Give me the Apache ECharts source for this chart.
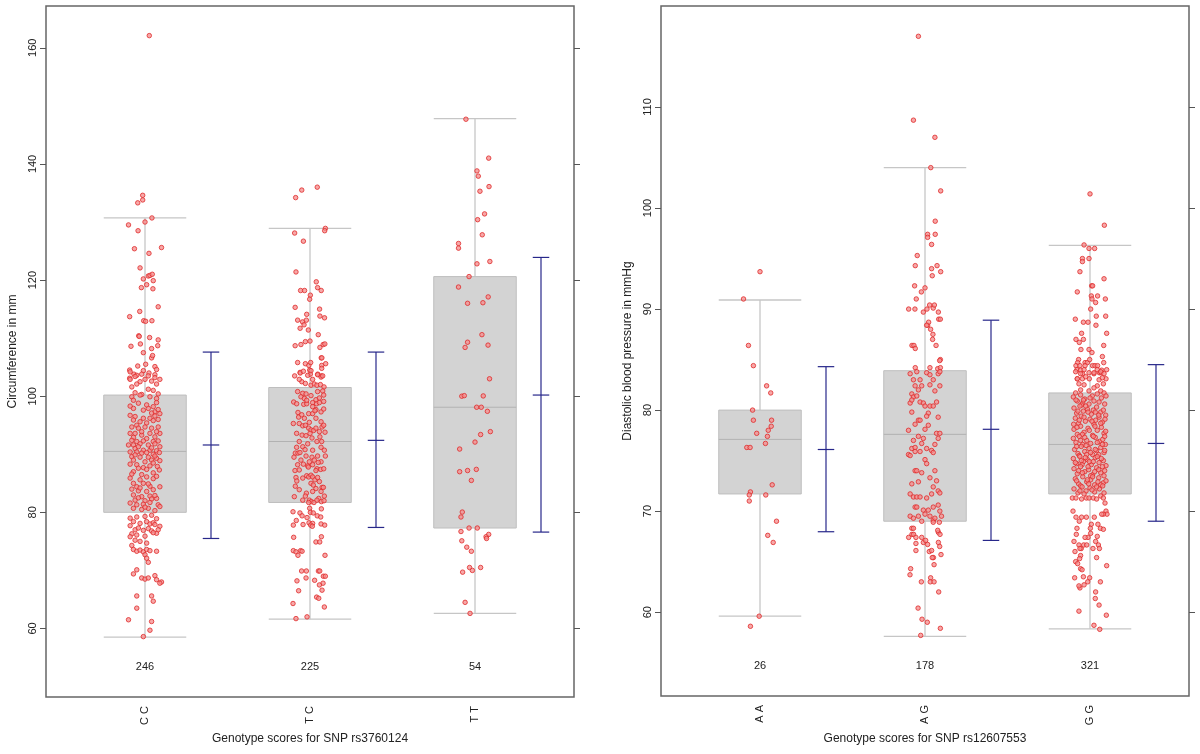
<!DOCTYPE html>
<html><head><meta charset="utf-8">
<script src="https://cdn.jsdelivr.net/npm/echarts@6/dist/echarts.min.js"></script>
<style>html,body{margin:0;padding:0;background:#fff}#c{width:1200px;height:754px}</style>
</head><body><div id="c"></div>
<script>
// ---------- LEFT PANEL DATA ----------
const leftCats = ['C C', 'T C', 'T T'];
const leftCounts = [246, 225, 54];
const leftTicks = [60, 80, 100, 120, 140, 160];
// [whiskerLow, Q1, median, Q3, whiskerHigh]
const leftBoxes = [[58.5, 80.0, 90.5, 100.2, 130.7], [61.6, 81.7, 92.2, 101.5, 128.9], [62.6, 77.3, 98.1, 120.6, 147.8]];
// [mean - sd, mean, mean + sd]
const leftMeans = [[75.5, 91.6, 107.6], [77.4, 92.4, 107.6], [76.6, 100.2, 123.9]];
// points: [jitter, value]
const ccPts = [
[0.026,162.1],[-0.014,134.6],[-0.014,133.8],[-0.044,133.3],[0.042,130.7],[0,130.0],[-0.1,129.5],[-0.042,128.5],[0.1,125.6],[-0.064,125.4],[0.024,124.6],[-0.03,122.1],[-0.01,120.2],[0.02,120.7],[0.03,120.8],[0.044,121.0],[0.01,119.2],[0.05,119.9],[-0.022,118.7],[0.048,118.5],[0.08,115.4],[-0.032,114.6],[-0.093,113.7],[-0.008,113.0],[0.004,112.9],[0.042,113.0],[-0.038,110.4],[-0.035,110.3],[0.028,110.1],[0.08,109.7],[-0.085,108.6],[-0.028,109.0],[0.04,108.2],[0.077,108.7],[-0.01,107.5],[0.04,106.6],[0.046,107.0],[-0.044,105.2],[-0.093,104.5],[-0.067,103.8],[-0.05,103.6],[-0.01,104.4],[0.004,105.5],[0.024,104.0],[0.06,105.1],[0.07,104.6],[0.06,103.7],[-0.093,103.1],
[-0.09,104.2],[-0.06,103.4],[-0.02,103.8],[0.02,103.5],[0.06,103.2],[0.09,102.9],[-0.09,102.9],[-0.03,102.5],[0.0,102.9],[0.04,102.6],[0.07,102.1],[-0.05,102.1],[-0.08,101.6],[0.02,101.2],[0.05,101.0],[-0.06,100.6],[0.08,100.4],[-0.02,100.3],
[-0.08,99.9],[-0.07,99.3],[0.03,99.9],[0.07,99.6],[-0.03,100.2],[-0.07,97.9],[-0.01,97.6],[0.02,97.9],[0.05,98.2],[0.06,97.3],[0.08,97.7],[-0.09,96.7],[-0.06,96.5],[-0.07,95.9],[-0.01,96.2],[0.03,96.2],[0.06,96.6],[0.09,97.0],[-0.03,95.6],[0.01,95.4],[0.05,95.8],[0.08,96.0],[-0.05,95.0],
[-0.08,94.7],[-0.04,94.5],[0.0,94.7],[0.04,94.5],[0.08,94.7],[-0.09,93.6],[-0.06,93.6],[-0.02,93.3],[0.03,93.6],[0.06,93.0],[0.09,93.6],[-0.07,92.9],[0.01,92.7],
[-0.08,92.4],[-0.05,92.2],[-0.01,92.3],[0.05,92.2],[0.08,92.3],[-0.1,91.6],[-0.07,91.6],[-0.03,91.8],[0.02,91.6],[0.06,91.8],[0.09,91.3],[-0.06,91.0],[-0.01,90.7],[0.03,90.7],[0.07,90.6],
[-0.09,90.4],[-0.05,90.4],[-0.02,90.2],[0.01,90.3],[0.05,90.0],[0.087,90.3],[-0.08,89.6],[-0.03,89.5],[0.02,89.5],[0.07,89.3],[-0.07,89.0],[0.0,88.7],[0.04,89.0],[0.09,88.9],
[-0.09,88.3],[-0.05,88.2],[-0.01,87.7],[0.03,88.0],[0.075,87.9],[-0.04,87.6],[0.01,87.4],[0.087,87.3],[-0.07,87.0],[0.05,86.8],
[-0.09,85.9],[-0.03,85.6],[0.01,86.1],[0.05,85.8],[-0.07,85.0],[-0.01,85.0],[0.03,84.5],[0.09,84.4],[-0.05,84.4],
[-0.08,84.0],[-0.04,83.7],[0.01,83.6],[0.05,83.9],[-0.07,83.0],[-0.02,82.7],[0.03,82.8],[0.07,82.4],[-0.06,82.1],[0.0,82.0],[0.04,82.3],
[-0.09,81.6],[-0.05,81.3],[-0.01,81.4],[0.03,81.7],[0.08,81.3],[-0.07,80.7],[-0.02,80.5],[0.02,80.7],[0.06,80.3],[0.09,81.0],
[-0.04,98.8],[0.01,98.5],[0.07,98.9],[-0.09,98.3],[0.04,97.1],[-0.02,93.9],[0.07,93.9],[-0.04,91.3],[0.04,91.1],[-0.06,89.9],[0.06,89.7],[-0.02,86.5],[0.07,86.2],[-0.08,86.6],[0.02,84.9],[0.06,82.9],[-0.03,84.2],[0.0,80.9],[-0.04,82.5],[0.05,88.5],
[-0.09,79.0],[-0.05,79.2],[0.0,79.3],[0.04,79.5],[0.07,78.9],[-0.07,78.4],[-0.03,78.1],[0.01,78.4],[0.03,78.0],[0.05,78.2],[0.06,77.9],[0.09,77.6],[-0.09,77.7],[-0.06,77.0],[-0.04,77.3],[-0.01,76.9],[0.02,77.2],[0.04,76.8],[0.07,76.4],[0.08,77.0],[-0.08,76.3],[-0.05,76.1],[0.0,75.9],[0.05,76.5],
[-0.09,75.8],[-0.06,75.2],[-0.03,75.0],[0.01,74.7],[-0.08,74.3],[-0.07,73.6],[-0.05,73.3],[-0.03,73.5],[-0.01,73.2],[0.01,73.6],[0.03,73.4],[0.07,73.3],[0.0,72.7],[0.01,72.1],[0.02,71.4],[-0.05,70.1],[-0.07,69.4],[0.06,69.1],[-0.02,68.7],[0.0,68.5],[0.02,68.7],[0.07,68.4],[0.1,68.0],[0.09,67.8],[-0.05,65.6],[0.04,65.6],[0.05,64.7],[-0.05,63.5],[-0.1,61.5],[0.04,61.2],[0.03,59.7],[-0.01,58.6]
];
const tcPts = [
[0.044,136.0],[-0.05,135.5],[-0.087,134.2],[0.093,128.9],[0.089,128.5],[-0.093,128.1],[-0.04,126.7],[-0.085,121.4],[0.038,119.7],[-0.057,118.2],[-0.033,118.2],[0.046,118.7],[0.068,118.2],[0.002,117.4],[-0.002,116.7],[-0.09,115.3],[0.058,115.0],[-0.02,114.1],[0.06,113.8],[0.088,113.5],[-0.075,113.1],[-0.045,112.8],[-0.022,113.1],[-0.036,112.3],[-0.06,111.7],[-0.01,111.4],[0.05,110.6],[-0.09,108.7],[-0.055,108.9],[-0.028,109.4],[0.0,109.5],[0.06,108.4],[0.08,108.9],[0.09,109.0],[0.068,106.6],[0.072,106.6],[-0.075,105.8],[-0.028,105.6],[-0.007,105.3],[0.004,105.8],[0.071,105.3],[0.095,105.6],[0.071,104.8],[-0.06,104.1],[-0.002,104.5],[0.002,103.8],[0.047,103.8],[0.069,103.5],[-0.093,103.5],
[-0.059,104.0],[-0.04,104.3],[0.006,104.4],[0.046,103.7],[0.067,103.3],[0.077,103.5],[-0.05,102.5],[-0.028,102.2],[0.006,101.9],[0.026,102.1],[0.042,101.9],[0.063,102.0],[0.085,101.6],[-0.065,102.9],[0.016,102.9],[-0.014,103.6],
[-0.099,99.0],[-0.081,98.7],[-0.038,98.6],[-0.02,98.7],[0.016,98.9],[0.04,98.7],[0.057,98.9],[0.083,99.1],[-0.073,97.2],[-0.008,97.0],[0.016,97.0],[0.036,97.7],[0.067,97.3],[0.083,97.8],
[-0.101,95.3],[-0.065,95.3],[-0.044,94.9],[-0.028,95.0],[-0.008,94.5],[0.006,94.2],[0.022,94.1],[0.036,94.5],[0.057,93.9],[0.073,94.7],[0.091,93.8],[0.083,95.0],
[-0.081,93.6],[-0.048,93.3],[-0.024,93.2],[0.012,92.8],[0.042,92.2],[0.071,92.2],
[-0.081,91.2],[-0.089,90.2],[-0.073,90.2],[-0.061,90.3],[-0.024,89.7],[0.012,89.5],[0.046,89.7],[0.093,89.7],[-0.097,89.5],
[-0.04,88.3],[-0.014,88.0],[0.016,88.2],[0.042,87.5],[0.065,87.4],[0.083,87.5],[-0.091,87.2],[-0.065,87.3],
[-0.02,86.3],[-0.008,86.1],[0.006,86.4],[0.016,86.1],[0.03,85.6],[0.046,86.0],[-0.085,86.0],[0.057,85.3],[0.073,84.3],[0.081,84.3],[-0.089,84.5],[-0.022,83.3],[-0.028,82.8],[-0.004,82.1],
[-0.075,100.8],[-0.044,100.5],[-0.024,100.4],[0.046,100.8],[0.077,100.9],[0.083,100.2],[0.006,100.1],[-0.055,99.9],[-0.034,99.6],[0.036,99.4],[0.057,99.7],[0.016,98.2],
[-0.069,96.4],[-0.034,96.2],[0.036,96.2],[0.067,95.6],[-0.004,95.5],
[-0.065,92.2],[-0.014,91.8],[-0.044,91.3],[0.016,90.7],[0.067,91.2],[0.087,90.7],
[0.026,89.0],[0.067,88.7],[-0.055,89.0],[-0.004,88.7],[-0.075,88.2],[0.036,87.2],
[-0.044,85.9],[0.006,85.0],[0.036,84.1],[0.067,83.6],[-0.065,83.9],[0.087,82.8],[0.016,83.6],[0.053,82.4],[-0.044,82.1],[-0.095,82.7],
[-0.02,99.3],[0.03,97.5],[-0.05,96.8],[0.0,93.6],[0.06,93.0],[-0.03,90.8],[0.05,88.6],[-0.08,85.4],[0.02,84.7],[-0.01,87.8],
[0.069,81.85],[0.085,82.0],[0.008,81.85],[0.024,81.7],[0.042,82.1],[-0.008,81.7],[-0.002,80.7],[0.069,80.6],[0.002,80.0],[0.02,79.9],
[-0.103,80.1],[-0.061,79.9],[-0.048,79.4],[0.044,79.4],[0.065,79.2],[-0.018,79.1],[-0.006,78.2],[0.016,78.1],[0.004,77.8],[0.014,77.6],
[-0.083,78.6],[-0.101,77.8],[-0.042,77.9],[0.067,78.0],[0.089,77.8],[-0.099,75.7],[0.069,75.8],[0.036,74.9],[0.059,74.9],
[-0.101,73.4],[-0.085,73.2],[-0.057,73.4],[-0.048,73.3],[-0.073,72.6],[0.091,72.6],
[-0.022,69.9],[-0.051,69.9],[0.051,69.9],[0.059,69.9],[0.081,69.0],[0.093,69.0],[-0.024,68.7],[-0.079,68.2],[0.028,68.3],[0.079,67.8],[0.057,67.5],[0.073,66.6],[-0.069,66.5],
[0.04,65.4],[0.053,65.2],[-0.103,64.3],[0.087,63.7],[-0.018,62.0],[-0.085,61.7]
];
const ttPts = [
[-0.055,147.7],[0.083,141.0],[0.012,138.8],[0.02,137.9],[0.085,136.1],[0.03,135.3],[0.058,131.4],[0.016,130.4],[0.044,127.8],[-0.10,126.3],[-0.10,125.5],[0.012,122.8],[0.09,123.2],[-0.036,120.6],[-0.10,118.8],[-0.045,116.0],[0.048,116.1],[0.08,117.1],[0.042,110.6],[-0.045,109.3],[-0.06,108.4],[0.079,108.8],[0.088,103.0],[-0.08,100.0],[-0.065,100.1],[0.05,100.05],[0.01,98.1],[0.038,98.1],[0.075,97.4],[0.093,93.9],[0.034,93.4],[0,92.1],[-0.093,90.9],[-0.093,87.0],[-0.045,87.2],[0.008,87.4],[-0.022,85.5],[-0.077,80.05],[-0.085,79.2],[-0.036,77.3],[0.014,77.3],[-0.085,76.7],[0.083,76.2],[0.067,75.8],[0.07,75.5],[-0.08,75.1],[-0.05,74.0],[-0.022,73.3],[-0.075,69.7],[-0.033,70.5],[-0.016,70.0],[0.034,70.5],[-0.06,64.5],[-0.03,62.6]
];

// ---------- RIGHT PANEL DATA ----------
const rightCats = ['A A', 'A G', 'G G'];
const rightCounts = [26, 178, 321];
const rightTicks = [60, 70, 80, 90, 100, 110];
const rightBoxes = [[59.6, 71.7, 77.1, 80.0, 90.9], [57.6, 69.0, 77.6, 83.9, 104.0], [58.35, 71.7, 76.6, 81.7, 96.3]];
const rightMeans = [[67.96, 76.1, 84.3], [67.1, 78.1, 88.9], [69.0, 76.7, 84.5]];
const aaPts = [
[0,93.7],[-0.1,91.0],[-0.07,86.4],[-0.04,84.4],[0.04,82.4],[0.065,81.7],[-0.045,80.0],[-0.04,79.0],[0.07,79.0],[0.068,78.4],[-0.02,77.7],[0.05,78.0],[0.045,77.4],[0.033,76.7],[-0.08,76.3],[-0.06,76.3],[0.074,72.6],[-0.058,71.9],[-0.065,71.6],[0.035,71.6],[-0.065,71.0],[0.1,69.0],[0.047,67.6],[0.08,66.9],[-0.005,59.6],[-0.058,58.6]
];
const agPts = [
[-0.04,117.0],[-0.07,108.7],[0.06,107.0],[0.035,104.0],[0.095,101.7],[0.062,98.7],[0.016,97.4],[0.016,97.1],[0.062,97.4],[0.04,96.4],[-0.047,95.3],[-0.059,94.3],[0.04,94.0],[0.073,94.3],[0.095,93.7],[0.044,93.3],[-0.063,92.3],[0.0,92.1],[-0.022,91.7],[-0.053,91.0],
[-0.099,90.0],[-0.061,90.0],[-0.01,89.7],[0.012,90.0],[0.028,90.4],[0.05,90.1],[0.057,90.4],[0.081,89.7],
[0.083,89.0],[0.093,89.0],[0.016,88.4],[0.022,88.7],[0.01,88.4],[0.034,88.0],[0.048,87.5],[0.046,87.0],[-0.079,86.4],[-0.067,86.4],[-0.059,86.1],[0.067,86.4],[0.093,85.0],[0.089,84.9],
[-0.059,84.2],[0.077,84.1],[0.093,84.2],[0.03,84.2],
[-0.09,83.6],[-0.05,83.8],[0.01,83.7],[0.03,83.5],[0.08,83.6],[0.09,83.8],[-0.07,83.0],[-0.03,83.0],[0.05,83.0],[-0.06,82.4],[-0.02,82.4],[0.03,82.5],[0.09,82.4],[-0.08,81.6],[-0.07,81.3],[-0.05,81.4],[-0.03,80.8],[-0.01,80.7],[0.0,80.4],[0.03,80.4],[0.05,80.4],[-0.09,80.7],[-0.08,81.0],[0.07,80.8],[0.02,79.7],[0.01,79.4],[0.08,79.3],[-0.04,79.0],[-0.03,79.0],[-0.1,78.0],[-0.07,77.0],[-0.04,77.4],[-0.02,76.7],[-0.01,77.2],[0.07,77.7],[0.09,77.7],[0.08,77.2],[-0.08,76.2],[-0.06,76.3],[-0.1,75.6],[-0.09,75.5],[-0.06,75.9],[-0.03,75.9],[0.01,76.2],[0.04,76.0],[0.05,75.8],[0.0,75.1],[0.01,74.7],[-0.06,74.0],[-0.05,74.0],[0.06,74.0],[0.03,73.3],[-0.08,72.7],[0.05,72.4],[-0.09,71.7],[-0.07,71.4],[-0.05,71.4],[-0.03,71.4],[0.04,71.7],[0.08,72.0],[0.09,71.8],[0.01,71.3],[-0.06,70.4],[-0.05,70.4],[-0.01,70.1],[0.02,70.1],[0.05,70.4],[0.08,70.6],[-0.09,69.5],[-0.07,69.3],[-0.04,69.5],[0.0,69.7],[0.03,69.5],[0.05,69.1],[0.06,69.3],[0.09,70.0],[0.1,69.5],[-0.02,69.0],
[-0.04,82.0],[0.06,81.9],[0.02,78.5],[-0.06,78.6],[0.06,76.6],[-0.02,73.8],[0.07,73.0],[-0.04,72.9],[0.0,78.1],[-0.08,79.8],
[-0.099,67.4],[-0.079,67.7],[-0.069,67.7],[-0.055,67.4],[-0.055,66.8],[-0.055,66.1],[-0.02,67.4],[-0.01,66.9],[0.004,67.1],[0.016,66.7],[0.026,66.0],[0.04,66.1],[0.051,65.4],[0.044,65.4],[0.055,64.7],[0.081,66.9],[0.089,66.5],[0.097,65.7],[0.081,67.9],[0.091,67.7],[0.077,68.1],[0.087,68.9],[-0.087,64.3],[-0.091,63.7],[-0.022,63.0],[0.034,63.4],[0.032,63.0],[0.055,63.0],[0.083,62.0],[-0.042,60.4],[-0.018,59.3],[0.014,59.0],[0.093,58.4],[-0.026,57.7],[-0.08,68.3],[-0.07,68.3],[0.05,68.9]
];
const ggPts = [
[0.0,101.4],[0.087,98.3],[-0.036,96.35],[-0.006,96.0],[0.028,96.0],[-0.046,95.0],[-0.046,94.7],[-0.006,95.0],[-0.061,93.7],[0.085,93.0],[0.01,92.3],[0.016,92.3],[-0.077,91.7],[0.008,91.3],[0.012,91.0],[0.046,91.3],[0.093,91.0],[0.034,90.65],[0.004,90.0],[0.038,89.3],[0.095,89.3],[-0.089,89.0],[-0.04,88.7],[-0.012,88.7],[0.036,88.4],[0.101,87.6],[-0.051,87.6],[-0.085,87.0],[-0.065,86.7],[-0.04,87.0],[0.083,86.4],[-0.055,86.0],[-0.006,86.0],[0.012,85.7],[0.075,85.3],
[-0.069,85.0],[-0.075,84.7],[-0.03,84.7],[-0.016,84.7],[-0.002,85.0],[-0.085,84.4],[-0.061,84.4],[-0.03,84.4],[0.016,84.4],[0.03,84.4],[0.046,84.4],[0.083,84.7],[0.101,84.0],[0.057,83.7],[0.067,83.7],[-0.079,84.0],[-0.057,83.95],[-0.036,84.0],[-0.006,83.7],[-0.045,83.6],[0.044,84.0],[0.071,83.95],[0.024,83.6],[-0.077,83.1],[-0.046,83.1],[-0.004,83.1],[0.097,83.1],
[-0.087,83.8],[-0.057,83.6],[0.024,83.7],[0.065,83.8],[0.085,83.6],[-0.077,83.1],[-0.026,83.3],[0.055,83.0],[0.075,83.2],[-0.067,82.6],[-0.036,82.5],[0.044,82.4],[0.081,82.6],[0.024,82.2],[-0.057,82.0],[-0.006,81.9],[0.065,81.9],[-0.087,81.7],[0.085,81.7],
[-0.101,81.3],[-0.077,80.9],[-0.057,81.5],[-0.044,80.7],[-0.032,81.1],[-0.006,80.6],[0.014,81.4],[0.055,80.8],[0.069,81.2],[0.089,80.6],[0.097,81.4],[-0.051,80.5],[0.024,80.9],
[-0.097,80.2],[-0.081,79.7],[-0.061,80.4],[-0.04,79.9],[-0.016,80.1],[0.008,79.6],[0.04,80.3],[0.065,79.8],[0.081,80.0],[0.095,79.5],[-0.073,79.9],[-0.026,80.4],
[-0.089,79.2],[-0.069,78.7],[-0.053,79.4],[-0.028,78.9],[0.0,79.1],[0.024,78.6],[0.055,79.3],[0.075,78.8],[0.091,79.1],[-0.099,78.6],[-0.036,79.3],[0.034,79.0],
[-0.097,78.1],[-0.077,77.6],[-0.057,78.4],[-0.036,77.8],[-0.012,78.2],[0.016,77.5],[0.044,78.0],[0.069,78.3],[0.085,77.7],[-0.046,77.6],[0.03,78.4],[0.095,77.9],
[-0.101,77.2],[-0.085,76.8],[-0.065,77.4],[-0.044,76.6],[-0.02,77.0],[0.004,76.7],[0.032,77.3],[0.057,76.9],[0.077,77.1],[0.093,76.6],[-0.057,77.0],[0.02,77.4],
[-0.093,76.1],[-0.073,75.7],[-0.053,76.4],[-0.032,75.9],[-0.006,76.2],[0.016,75.6],[0.04,76.0],[0.065,76.3],[0.085,75.8],[-0.065,75.5],[-0.02,75.6],[0.053,75.6],
[-0.101,75.2],[-0.081,74.7],[-0.061,75.4],[-0.04,74.9],[-0.016,75.1],[0.008,74.6],[0.032,75.3],[0.055,74.8],[0.081,75.0],[0.097,74.5],[-0.048,74.6],[-0.004,74.9],[0.044,75.4],
[-0.097,74.2],[-0.077,73.7],[-0.057,74.4],[-0.032,73.9],[-0.008,74.1],[0.016,73.6],[0.04,74.3],[0.065,73.8],[0.089,74.0],[-0.069,74.0],[0.004,73.5],[0.075,74.4],
[-0.089,73.2],[-0.069,72.7],[-0.044,73.4],[-0.02,72.9],[0.004,73.1],[0.028,72.6],[0.053,73.3],[0.081,72.8],[-0.057,72.5],[0.016,73.4],[0.097,73.0],
[-0.097,72.2],[-0.073,71.8],[-0.048,72.4],[-0.024,72.0],[0.0,72.3],[0.028,71.9],[0.057,72.2],[0.085,71.8],[-0.036,71.7],[0.04,72.4],
[-0.085,81.0],[0.0,81.2],[0.044,81.6],[-0.012,79.8],[0.053,79.5],[0.02,80.0],[-0.079,78.3],[-0.004,78.0],[0.065,78.7],[-0.032,77.3],[0.044,76.8],[0.089,77.4],[-0.081,76.4],[0.004,75.8],[0.075,76.6],[-0.028,75.3],[0.02,74.9],[0.069,75.2],[-0.089,74.8],[-0.012,74.4],[0.053,74.1],[-0.046,73.8],[0.028,73.9],[0.085,73.5],[-0.081,73.0],[-0.008,72.7],[0.065,72.6],[-0.061,72.0],[0.012,72.1],[0.077,72.5],[-0.04,81.0],[0.032,79.8],[-0.065,79.0],[0.012,78.9],[-0.024,76.5],[0.032,76.1],[-0.053,75.0],[0.089,76.0],[-0.016,73.1],[0.048,72.9],
[-0.107,71.3],[-0.085,71.3],[-0.051,71.2],[-0.022,71.3],[-0.006,71.3],[0.02,71.3],[0.04,71.2],[0.065,71.5],[0.081,71.3],[0.091,70.8],[0.097,70.0],[0.103,69.7],[0.081,69.7],[0.071,69.7],[0.026,69.4],[-0.022,69.4],[-0.051,69.4],[-0.085,69.4],[-0.065,69.0],[-0.103,70.0],[0.008,68.7],[0.002,68.3],[0.048,68.7],[0.063,68.3],[0.081,68.2],[-0.079,68.3],[0.004,67.8],[0.044,67.5],[-0.012,67.4],[-0.03,67.4],[-0.083,67.7],[-0.097,67.0],[-0.067,66.65],[-0.053,66.3],[-0.038,66.65],[-0.02,66.65],[0.034,67.0],[0.051,66.65],[0.018,66.3],[0.057,66.3],[-0.091,66.0],[-0.061,66.3],[-0.057,65.6],[-0.063,65.3],[-0.087,65.0],[-0.075,64.8],[-0.057,64.3],[-0.048,64.2],[0.04,65.4],[0.101,64.6],[-0.093,63.4],[-0.04,63.5],[-0.002,63.4],[-0.014,63.0],[-0.036,62.7],[-0.061,62.4],[-0.067,62.6],[0.063,63.0],[0.034,62.0],[0.032,61.35],[0.055,60.7],[-0.067,60.1],[0.099,59.7],[0.024,58.7],[0.059,58.3]
];

// ---------- CHART ----------
const FONT = '"Liberation Sans", Arial, Helvetica, sans-serif';
const chart = echarts.init(document.getElementById('c'), null, {renderer: 'canvas'});

function boxRender(params, api) {
  const c = api.value(0), lo = api.value(1), q1 = api.value(2), md = api.value(3), q3 = api.value(4), hi = api.value(5);
  const hw = 0.25;
  const xl = api.coord([c - hw, lo])[0], xr = api.coord([c + hw, lo])[0], xc = api.coord([c, lo])[0];
  const y = v => api.coord([c, v])[1];
  const wst = {stroke: '#c6c6c6', lineWidth: 1.3};
  const ln = (x1, y1, x2, y2, st) => ({type: 'line', shape: {x1, y1, x2, y2}, style: st});
  return {type: 'group', children: [
    ln(xc, y(hi), xc, y(q3), wst),
    ln(xc, y(q1), xc, y(lo), wst),
    ln(xl, y(hi), xr, y(hi), wst),
    ln(xl, y(lo), xr, y(lo), wst),
    {type: 'rect', shape: {x: xl, y: y(q3), width: xr - xl, height: y(q1) - y(q3)}, style: {fill: '#d3d3d3', stroke: '#bebebe', lineWidth: 1}},
    ln(xl, y(md), xr, y(md), {stroke: '#b2b2b2', lineWidth: 1})
  ]};
}
function errRender(params, api) {
  const c = api.value(0) + 0.4, lo = api.value(1), mn = api.value(2), hi = api.value(3);
  const hw = 0.05;
  const xl = api.coord([c - hw, lo])[0], xr = api.coord([c + hw, lo])[0], xc = api.coord([c, lo])[0];
  const y = v => api.coord([c, v])[1];
  const st = {stroke: '#27278a', lineWidth: 1.2};
  const ln = (x1, y1, x2, y2) => ({type: 'line', shape: {x1, y1, x2, y2}, style: st});
  return {type: 'group', children: [
    ln(xc, y(hi), xc, y(lo)), ln(xl, y(hi), xr, y(hi)), ln(xl, y(mn), xr, y(mn)), ln(xl, y(lo), xr, y(lo))
  ]};
}
function countRender(params, api) {
  const c = api.value(0), n = api.value(1);
  const cs = params.coordSys;
  const x = api.coord([c, 80])[0];
  return {type: 'text', x: x, y: cs.y + cs.height - 30,
    style: {text: String(n), fill: '#222', font: '11px ' + FONT, align: 'center', verticalAlign: 'middle'}};
}

function panel(i, cats, counts, ticks, boxes, means, groups, yMin, yMax, yName) {
  const xAxes = [{
    gridIndex: i, type: 'value', min: 0.4, max: 3.6,
    axisLine: {show: false}, axisTick: {show: false}, splitLine: {show: false},
    axisLabel: {customValues: [1, 2, 3], formatter: v => cats[Math.round(v) - 1], rotate: 90, margin: 9,
      fontSize: 11, color: '#222', fontFamily: FONT},
    name: i === 0 ? 'Genotype scores for SNP rs3760124' : 'Genotype scores for SNP rs12607553',
    nameLocation: 'middle', nameGap: 36, nameTextStyle: {fontSize: 12, color: '#222', fontFamily: FONT}
  }];
  const yAxes = [{
    gridIndex: i, type: 'value', min: yMin, max: yMax, position: 'left',
    axisLine: {show: false}, splitLine: {show: false},
    axisTick: {customValues: ticks, length: 6, lineStyle: {color: '#555'}},
    axisLabel: {customValues: ticks, rotate: 90, margin: 8, fontSize: 11, color: '#222', fontFamily: FONT},
    name: yName, nameLocation: 'middle', nameGap: 27, nameRotate: 90,
    nameTextStyle: {fontSize: 12, color: '#222', fontFamily: FONT}
  }, {
    gridIndex: i, type: 'value', min: yMin, max: yMax, position: 'right',
    axisLine: {show: false}, splitLine: {show: false},
    axisTick: {customValues: ticks, length: 6, lineStyle: {color: '#555'}},
    axisLabel: {show: false}
  }];
  const xi = i, yi = i * 2;
  const series = [];
  series.push({type: 'custom', xAxisIndex: xi, yAxisIndex: yi, renderItem: boxRender, z: 1,
    encode: {x: 0, y: [1, 2, 3, 4, 5]}, silent: true,
    data: boxes.map((b, k) => [k + 1].concat(b))});
  const pts = [];
  groups.forEach((g, k) => g.forEach(p => pts.push([k + 1 + p[0], p[1]])));
  series.push({type: 'scatter', xAxisIndex: xi, yAxisIndex: yi, z: 3, symbol: 'circle', symbolSize: 4.5,
    itemStyle: {color: 'rgba(244,140,140,0.95)', borderColor: '#e02a2a', borderWidth: 1},
    silent: true, data: pts});
  series.push({type: 'custom', xAxisIndex: xi, yAxisIndex: yi, renderItem: errRender, z: 4,
    encode: {x: 0, y: [1, 2, 3]}, silent: true,
    data: means.map((m, k) => [k + 1].concat(m))});
  series.push({type: 'custom', xAxisIndex: xi, yAxisIndex: yi, renderItem: countRender, z: 4,
    encode: {x: 0}, silent: true,
    data: counts.map((n, k) => [k + 1, n])});
  return {xAxes, yAxes, series};
}

const L = panel(0, leftCats, leftCounts, leftTicks, leftBoxes, leftMeans, [ccPts, tcPts, ttPts], 48.2, 167.2, 'Circumference in mm');
const R = panel(1, rightCats, rightCounts, rightTicks, rightBoxes, rightMeans, [aaPts, agPts, ggPts], 51.7, 120.0, 'Diastolic blood pressure in mmHg');

chart.setOption({
  animation: false,
  backgroundColor: '#fff',
  grid: [
    {left: 46, top: 6, width: 528, height: 691, show: true, borderColor: '#666', borderWidth: 1.5, backgroundColor: 'transparent'},
    {left: 661, top: 6, width: 528, height: 690, show: true, borderColor: '#666', borderWidth: 1.5, backgroundColor: 'transparent'}
  ],
  xAxis: L.xAxes.concat(R.xAxes),
  yAxis: L.yAxes.concat(R.yAxes),
  series: L.series.concat(R.series)
});
</script>
</body></html>
